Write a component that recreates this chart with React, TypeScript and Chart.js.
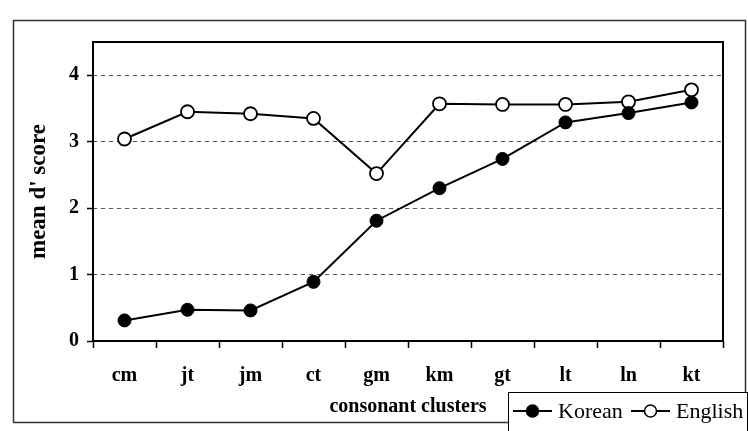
import React, { useEffect, useRef } from "react";
import { Chart, registerables } from "chart.js";

Chart.register(...registerables);

const categories = ["cm", "jt", "jm", "ct", "gm", "km", "gt", "lt", "ln", "kt"];
const koreanScores = [0.31, 0.47, 0.46, 0.89, 1.81, 2.3, 2.74, 3.29, 3.43, 3.59];
const englishScores = [3.04, 3.45, 3.42, 3.35, 2.52, 3.57, 3.56, 3.56, 3.6, 3.78];
const yTickValues = [0, 1, 2, 3, 4];
const seriesNames = ["Korean", "English"];
const xTitle = "consonant clusters";
const yTitle = "mean d' score";

const FONT = "'Liberation Serif', 'Times New Roman', serif";

const framePlugin = {
  id: "frameAndLegend",
  beforeDraw(chart: any) {
    const { ctx } = chart;
    ctx.save();
    ctx.fillStyle = "#ffffff";
    ctx.fillRect(0, 0, chart.width, chart.height);
    ctx.strokeStyle = "#333333";
    ctx.lineWidth = 1.5;
    ctx.strokeRect(13.5, 20.5, 732, 402);
    ctx.restore();
  },
  afterDraw(chart: any) {
    const { ctx, chartArea } = chart;
    ctx.save();
    // plot box
    ctx.strokeStyle = "#000000";
    ctx.lineWidth = 2;
    ctx.strokeRect(chartArea.left, chartArea.top, chartArea.right - chartArea.left, chartArea.bottom - chartArea.top);

    // legend box
    const lx = 508.5, ly = 392.5;
    ctx.fillStyle = "#ffffff";
    ctx.fillRect(lx, ly, 239, 50);
    ctx.lineWidth = 1;
    ctx.strokeStyle = "#000000";
    ctx.strokeRect(lx, ly, 239, 50);

    const cy = 411;
    const drawItem = (x0: number, filled: boolean, label: string) => {
      ctx.beginPath();
      ctx.lineWidth = 2;
      ctx.strokeStyle = "#000";
      ctx.moveTo(x0, cy);
      ctx.lineTo(x0 + 39, cy);
      ctx.stroke();
      ctx.beginPath();
      ctx.arc(x0 + 19.5, cy, 6, 0, Math.PI * 2);
      ctx.fillStyle = filled ? "#000" : "#fff";
      ctx.fill();
      ctx.lineWidth = 1.5;
      ctx.stroke();
      ctx.fillStyle = "#000";
      ctx.font = `22px ${FONT}`;
      ctx.textBaseline = "middle";
      ctx.textAlign = "left";
      ctx.fillText(label, x0 + 45, cy + 1);
    };
    drawItem(513, true, seriesNames[0]);
    drawItem(631, false, seriesNames[1]);
    ctx.restore();
  },
};

export default function App() {
  const canvasRef = useRef<HTMLCanvasElement | null>(null);

  useEffect(() => {
    if (!canvasRef.current) return;
    const chart = new Chart(canvasRef.current, {
      type: "line",
      data: {
        labels: categories,
        datasets: [
          {
            label: seriesNames[0],
            data: koreanScores,
            borderColor: "#000",
            borderWidth: 2,
            pointRadius: 6.5,
            pointBackgroundColor: "#000",
            pointBorderColor: "#000",
            pointBorderWidth: 1,
            tension: 0,
          },
          {
            label: seriesNames[1],
            data: englishScores,
            borderColor: "#000",
            borderWidth: 2,
            pointRadius: 6.5,
            pointBackgroundColor: "#fff",
            pointBorderColor: "#000",
            pointBorderWidth: 1.8,
            tension: 0,
          },
        ],
      },
      options: {
        animation: false,
        responsive: false,
        devicePixelRatio: 1,
        clip: false,
        layout: { padding: { top: 42, right: 25, left: 0, bottom: 0 } },
        plugins: {
          legend: { display: false },
          tooltip: { enabled: false },
        },
        scales: {
          x: {
            offset: true,
            afterFit(scale: any) {
              scale.height = 90;
            },
            grid: {
              offset: true,
              drawOnChartArea: false,
              drawTicks: true,
              tickLength: 7,
              tickColor: "#000",
              tickWidth: 1.5,
            },
            border: { display: false },
            ticks: {
              color: "#000",
              padding: 16,
              font: { family: FONT, size: 20, weight: "bold" },
            },
            title: {
              display: true,
              text: xTitle,
              color: "#000",
              padding: { top: 0, bottom: 12 },
              font: { family: FONT, size: 20, weight: "bold" },
            },
          },
          y: {
            min: 0,
            max: 4.5,
            afterFit(scale: any) {
              scale.width = 93;
            },
            afterBuildTicks(scale: any) {
              scale.ticks = yTickValues.map((v) => ({ value: v }));
            },
            grid: {
              color: (c: any) => (c.tick && c.tick.value > 0 ? "#555" : "rgba(0,0,0,0)"),
              lineWidth: 1,
              tickLength: 6,
              tickColor: "#000",
              tickBorderDash: [],
              tickWidth: 1.5,
            },
            border: { display: false, dash: [4, 4] },
            ticks: {
              color: "#000",
              padding: 8,
              font: { family: FONT, size: 20, weight: "bold" },
            },
            title: {
              display: true,
              text: yTitle,
              color: "#000",
              padding: { top: 25, bottom: 0 },
              font: { family: FONT, size: 23, weight: "bold" },
            },
          },
        },
      },
      plugins: [framePlugin],
    } as any);
    return () => chart.destroy();
  }, []);

  return (
    <div style={{ position: "fixed", left: 0, top: 0, width: 748, height: 431, background: "#fff" }}>
      <canvas ref={canvasRef} width={748} height={431} style={{ width: 748, height: 431, display: "block" }} />
    </div>
  );
}
